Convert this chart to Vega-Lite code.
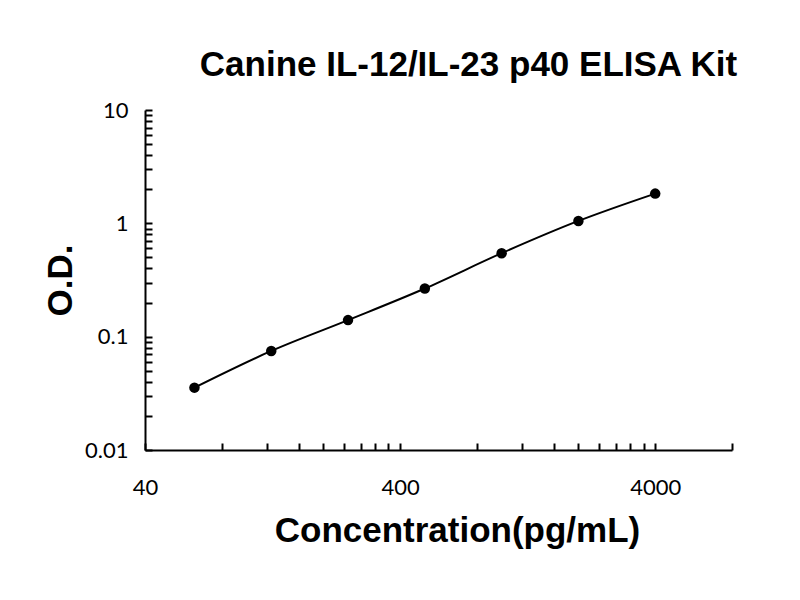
{
  "$schema": "https://vega.github.io/schema/vega-lite/v6.json",
  "width": 587,
  "height": 340,
  "autosize": {"type": "none"},
  "padding": {"left": 145, "top": 110, "right": 68, "bottom": 150},
  "background": "white",
  "title": {
    "text": "Canine IL-12/IL-23 p40 ELISA Kit",
    "font": "Liberation Sans",
    "fontSize": 35,
    "fontWeight": "bold",
    "color": "black",
    "anchor": "middle",
    "dx": 30,
    "offset": 16
  },
  "config": {
    "view": {"stroke": null},
    "axis": {
      "domainColor": "black",
      "domainWidth": 2,
      "tickColor": "black",
      "tickWidth": 2,
      "tickSize": -7,
      "grid": false,
      "labelFont": "Lato",
      "labelFontSize": 22,
      "labelColor": "black",
      "labelOverlap": false,
      "labelFlush": false,
      "titleFont": "Liberation Sans",
      "titleFontSize": 35,
      "titleFontWeight": "bold",
      "titleColor": "black"
    }
  },
  "data": {
    "values": [
      {"conc": 62.5, "od": 0.0355},
      {"conc": 125, "od": 0.0748},
      {"conc": 250, "od": 0.140},
      {"conc": 500, "od": 0.266},
      {"conc": 1000, "od": 0.545},
      {"conc": 2000, "od": 1.05},
      {"conc": 4000, "od": 1.83}
    ]
  },
  "encoding": {
    "x": {
      "field": "conc",
      "type": "quantitative",
      "scale": {"type": "log", "domain": [40, 8000], "nice": false},
      "axis": {
        "title": "Concentration(pg/mL)",
        "titleX": 312,
        "titleY": 80,
        "titleBaseline": "middle",
        "values": [40, 80, 120, 160, 200, 240, 280, 320, 360, 400, 800, 1200, 1600, 2000, 2400, 2800, 3200, 3600, 4000, 8000],
        "format": "d",
        "labelExpr": "indexof([40, 400, 4000], datum.value) >= 0 ? datum.label : ''",
        "labelPadding": 34
      }
    },
    "y": {
      "field": "od",
      "type": "quantitative",
      "scale": {"type": "log", "domain": [0.01, 10], "nice": false},
      "axis": {
        "title": "O.D.",
        "titleX": -85,
        "titleY": 170,
        "titleAngle": -90,
        "titleBaseline": "middle",
        "titleAlign": "center",
        "values": [0.01, 0.02, 0.03, 0.04, 0.05, 0.06, 0.07, 0.08, 0.09, 0.1, 0.2, 0.3, 0.4, 0.5, 0.6, 0.7, 0.8, 0.9, 1, 2, 3, 4, 5, 6, 7, 8, 9, 10],
        "format": ".2~f",
        "labelExpr": "indexof([0.01, 0.1, 1, 10], datum.value) >= 0 ? datum.label : ''",
        "labelPadding": 24
      }
    }
  },
  "layer": [
    {
      "mark": {"type": "line", "color": "black", "strokeWidth": 2, "interpolate": "monotone"}
    },
    {
      "mark": {"type": "point", "filled": true, "color": "black", "opacity": 1, "size": 110}
    }
  ]
}
